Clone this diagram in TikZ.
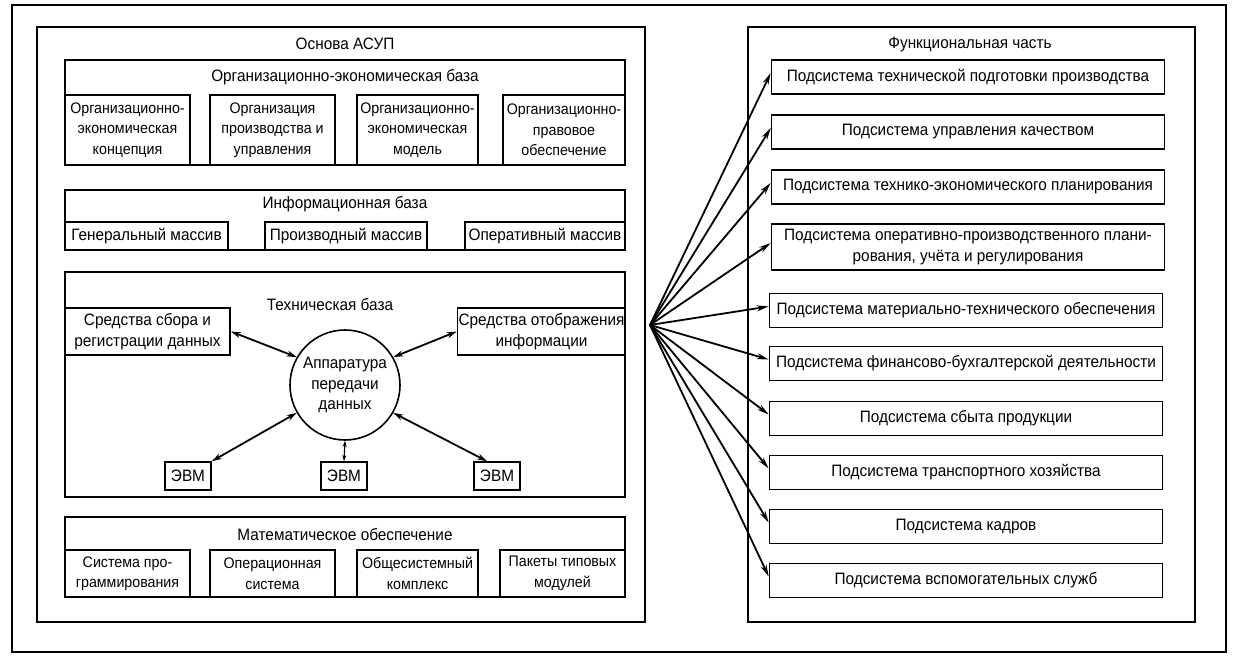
\documentclass[tikz,border=0pt]{standalone}
\usepackage{fontspec}
\setmainfont{Liberation Sans}[FakeStretch=0.93]
\usetikzlibrary{arrows.meta}
\newcommand\dfont{\fontsize{16.5}{20.5}\selectfont}
\newcommand\sfont{\fontsize{15.3}{20.5}\selectfont}
\begin{document}
\begin{tikzpicture}[x=1pt,y=-1pt,line width=1.6pt,
  frame/.style={draw,rectangle,inner sep=0pt},
  box/.style={draw,rectangle,inner sep=1pt,align=center,font=\dfont},
  sbox/.style={box,font=\sfont},
  ttl/.style={inner sep=0pt,font=\dfont},
  conn/.style={line width=1.8pt,-{Stealth[length=12pt,width=6pt]}},
  dconn/.style={line width=1.8pt,{Stealth[length=10pt,width=6pt]}-{Stealth[length=10pt,width=6pt]}},
  sconn/.style={line width=1.2pt,{Stealth[length=6pt,width=4pt]}-{Stealth[length=6pt,width=4pt]}}]
\useasboundingbox (0,0) rectangle (1234,671);
% frames
\node[frame,line width=2.8pt,minimum width=1214pt,minimum height=647pt] (outer) at (619,328.5) {};
\node[frame,minimum width=608pt,minimum height=595pt] (left) at (341,324.5) {};
\node[frame,minimum width=447pt,minimum height=595pt] (right) at (971.5,324.5) {};
\node[ttl] (lt) at (345,44) {Основа АСУП};
\node[ttl] (rt) at (970,44) {Функциональная часть};
% org base
\node[frame,minimum width=560pt,minimum height=105pt] (org) at (345,112.5) {};
\node[ttl] (orgt) at (345,77) {Организационно-экономическая база};
\node[sbox,minimum width=125pt,minimum height=70pt] (o1) at (127.5,130) {Организационно-\\экономическая\\концепция};
\node[sbox,minimum width=125pt,minimum height=70pt] (o2) at (272.5,130) {Организация\\производства и\\управления};
\node[sbox,minimum width=121pt,minimum height=70pt] (o3) at (417.5,130) {Организационно-\\экономическая\\модель};
\node[sbox,minimum width=122pt,minimum height=70pt] (o4) at (564,130) {Организационно-\\правовое\\обеспечение};
% info base
\node[frame,minimum width=560pt,minimum height=60pt] (inf) at (345,220) {};
\node[ttl] (inft) at (345,204) {Информационная база};
\node[box,minimum width=163pt,minimum height=28pt] (i1) at (146.5,236) {Генеральный массив};
\node[box,minimum width=162pt,minimum height=28pt] (i2) at (346,236) {Производный массив};
\node[box,minimum width=160pt,minimum height=28pt] (i3) at (545,236) {Оперативный массив};
% tech base
\node[frame,minimum width=560pt,minimum height=225pt] (tech) at (345,384.5) {};
\node[ttl] (techt) at (330,305) {Техническая база};
\node[box,minimum width=165pt,minimum height=47pt] (sbor) at (147.5,331.5) {Средства сбора и\\регистрации данных};
\node[box,minimum width=167pt,minimum height=47pt] (otob) at (541.5,331.5) {Средства отображения\\информации};
\node[draw,circle,minimum size=110pt,inner sep=0pt,align=center,font=\dfont] (circ) at (345,385) {Аппаратура\\передачи\\данных};
\node[box,minimum width=46pt,minimum height=28pt] (e1) at (188,476) {ЭВМ};
\node[box,minimum width=46pt,minimum height=28pt] (e2) at (344,476) {ЭВМ};
\node[box,minimum width=46pt,minimum height=28pt] (e3) at (497,476) {ЭВМ};
\draw[dconn] (sbor.east) -- (circ.150);
\draw[dconn] (circ.30) -- (otob.west);
\draw[dconn] (circ.210) -- (e1.north east);
\draw[sconn] (circ.south) -- (e2.north);
\draw[dconn] (circ.330) -- ([xshift=-10pt]e3.north);
% math base
\node[frame,minimum width=560pt,minimum height=80pt] (math) at (345,557) {};
\node[ttl] (matht) at (345,535) {Математическое обеспечение};
\node[sbox,minimum width=125pt,minimum height=47pt] (m1) at (127.5,573.5) {Система про-\\граммирования};
\node[sbox,minimum width=125pt,minimum height=47pt] (m2) at (272.5,573.5) {Операционная\\система};
\node[sbox,minimum width=121pt,minimum height=47pt] (m3) at (417.5,573.5) {Общесистемный\\комплекс};
\node[sbox,minimum width=125pt,minimum height=47pt] (m4) at (562.5,573.5) {Пакеты типовых\\модулей};
% functional part
\node[box,minimum width=393pt,minimum height=34pt] (f1) at (968,77) {Подсистема технической подготовки производства};
\node[box,minimum width=393pt,minimum height=34pt] (f2) at (968,132) {Подсистема управления качеством};
\node[box,minimum width=393pt,minimum height=34pt] (f3) at (968,187) {Подсистема технико-экономического планирования};
\node[box,minimum width=393pt,minimum height=46pt] (f4) at (968,247) {Подсистема оперативно-производственного плани-\\рования, учёта и регулирования};
\node[box,minimum width=393pt,minimum height=34pt] (f5) at (966,310.5) {Подсистема материально-технического обеспечения};
\node[box,minimum width=393pt,minimum height=34pt] (f6) at (966,363.5) {Подсистема финансово-бухгалтерской деятельности};
\node[box,minimum width=393pt,minimum height=34pt] (f7) at (966,418.5) {Подсистема сбыта продукции};
\node[box,minimum width=393pt,minimum height=34pt] (f8) at (966,472.5) {Подсистема транспортного хозяйства};
\node[box,minimum width=393pt,minimum height=34pt] (f9) at (966,526.5) {Подсистема кадров};
\node[box,minimum width=393pt,minimum height=34pt] (f10) at (966,580.5) {Подсистема вспомогательных служб};
\coordinate (fan) at (650,325);
\foreach \i in {1,...,10} {\draw[conn] (fan) -- ([yshift=4pt]f\i.west);}
\end{tikzpicture}
\end{document}
